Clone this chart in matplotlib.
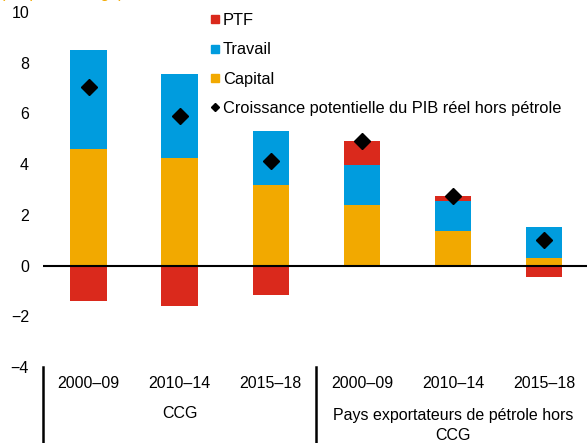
import matplotlib
matplotlib.use("Agg")
import matplotlib.pyplot as plt
import matplotlib.transforms as mtransforms
from matplotlib.lines import Line2D
import numpy as np

plt.rcParams['font.family'] = ['Liberation Sans', 'DejaVu Sans']

periods = ["2000–09", "2010–14", "2015–18", "2000–09", "2010–14", "2015–18"]
groups = ["CCG", "Pays exportateurs de pétrole hors\nCCG"]
capital = [4.59, 4.26, 3.18, 2.39, 1.37, 0.31]
travail = [3.91, 3.31, 2.12, 1.57, 1.18, 1.21]
ptf = [-1.41, -1.61, -1.18, 0.95, 0.19, -0.47]
croissance = [7.05, 5.90, 4.11, 4.90, 2.74, 1.01]

c_red = "#DA291C"
c_blue = "#009CDE"
c_orange = "#F2A900"

FS = 11.5

fig = plt.figure(figsize=(5.87, 4.43), dpi=100)
ax = fig.add_axes([43/587, 1 - 367/443, 1 - 43/587, (367 - 12)/443])

x = np.arange(len(periods))
w = 0.40
pos_base = np.zeros(len(x))
neg_base = np.zeros(len(x))
for vals, col in [(capital, c_orange), (travail, c_blue), (ptf, c_red)]:
    v = np.array(vals)
    bottoms = np.where(v >= 0, pos_base, neg_base)
    ax.bar(x, v, w, bottom=bottoms, color=col, edgecolor='none', zorder=2)
    pos_base = pos_base + np.where(v >= 0, v, 0)
    neg_base = neg_base + np.where(v < 0, v, 0)

ax.plot(x, croissance, linestyle='none', marker='D', markersize=8,
        color='black', zorder=4)

ax.axhline(0, color='black', linewidth=1.5, zorder=3)

ax.set_xlim(-0.5, 5.47)
ax.set_ylim(-4, 10)
ax.set_yticks(np.arange(-4, 11, 2))
ax.set_yticklabels([str(t).replace('-', '−') for t in range(-4, 11, 2)])
ax.tick_params(axis='y', length=0, pad=10, labelsize=FS)
ax.set_xticks([])
for s in ax.spines.values():
    s.set_visible(False)

trans = mtransforms.blended_transform_factory(ax.transData, fig.transFigure)
for xv in [-0.5, 2.5]:
    ax.add_line(Line2D([xv, xv], [1 - 367/443, 0], transform=trans,
                       color='black', linewidth=1.8, clip_on=False))
for i, p in enumerate(periods):
    ax.text(i, 1 - 383/443, p, transform=trans, ha='center', va='center',
            fontsize=FS)
ax.text(1, 1 - 414/443, groups[0], transform=trans, ha='center', va='center',
        fontsize=FS)
ax.text(4, 1 - 408/443, groups[1], transform=trans, ha='center', va='top',
        fontsize=FS, linespacing=1.4)

# partially visible subtitle at the top edge
fig.text(0.0, 1.0 + 2/443, "(En pourcentage)", color=c_orange, fontsize=FS,
         ha='left', va='baseline')

handles = [
    Line2D([], [], linestyle='none', marker='s', markersize=5.2, color=c_red),
    Line2D([], [], linestyle='none', marker='s', markersize=5.2, color=c_blue),
    Line2D([], [], linestyle='none', marker='s', markersize=5.2, color=c_orange),
    Line2D([], [], linestyle='none', marker='D', markersize=4, color='black'),
]
labels = ["PTF", "Travail", "Capital", "Croissance potentielle du PIB réel hors pétrole"]
fig.legend(handles, labels, loc='upper left', bbox_to_anchor=(210/587, 1 - 13/443),
           frameon=False, fontsize=11.8, handlelength=0.6, handletextpad=0.18,
           labelspacing=0.87, borderpad=0, borderaxespad=0)

fig.savefig("out.png", dpi=100)
